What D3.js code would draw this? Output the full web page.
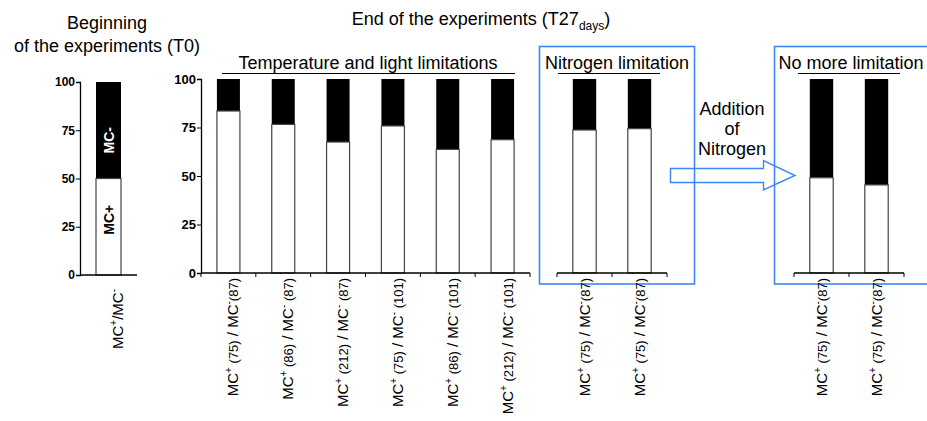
<!DOCTYPE html>
<html>
<head>
<meta charset="utf-8">
<script src="https://cdn.jsdelivr.net/npm/d3@7"></script>
<style>
  body { margin: 0; background: #fff; }
  svg { font-family: "Liberation Sans", Arial, sans-serif; }
</style>
</head>
<body>
<div id="chart"></div>
<script>
// % MC+ (white part); MC- is the rest up to 100
const startValues = [50];
const tempLightValues = [83.5, 76.6, 67.5, 75.8, 63.7, 68.7];
const nitrogenValues = [73.7, 74.4];
const noLimitValues = [49.1, 45.4];

const tempLightStrains = [['75', '87'], ['86', '87'], ['212', '87'], ['75', '101'], ['86', '101'], ['212', '101']];
const nitrogenStrains = [['75', '87'], ['75', '87']];
const noLimitStrains = [['75', '87'], ['75', '87']];

const yTicks = [0, 25, 50, 75, 100];
const blue = '#3d86f4';
const bigFont = 18;

const W = 927, H = 421;
const svg = d3.select('#chart').append('svg')
  .attr('width', W)
  .attr('height', H);

const yLeft = d3.scaleLinear().domain([0, 100]).range([275, 82]);
const yMain = d3.scaleLinear().domain([0, 100]).range([273, 79]);

function yAxis(x, y, size) {
  const g = svg.append('g')
    .attr('transform', `translate(${x},0)`)
    .call(d3.axisLeft(y).tickValues(yTicks).tickSize(4).tickPadding(1));
  g.select('.domain').attr('stroke', '#000').attr('stroke-width', 1.3);
  g.selectAll('.tick line').attr('stroke', '#000');
  g.selectAll('.tick text')
    .attr('font-size', size + 'px')
    .attr('font-weight', 'bold')
    .attr('font-family', '"Liberation Sans", Arial, sans-serif')
    .attr('fill', '#000');
}

function xBase(x, y, ticks) {
  svg.append('line')
    .attr('x1', x.range()[0]).attr('x2', x.range()[1])
    .attr('y1', y(0)).attr('y2', y(0))
    .attr('stroke', '#000').attr('stroke-width', 1.3);
  if (!ticks) return;
  const pos = x.domain().map(d => x(d)).concat([x.range()[1]]);
  svg.selectAll(null)
    .data(pos)
    .enter().append('line')
    .attr('x1', d => d).attr('x2', d => d)
    .attr('y1', y(0)).attr('y2', y(0) + 4)
    .attr('stroke', '#000');
}

function bars(values, x, y, barW) {
  const g = svg.append('g');
  values.forEach((v, i) => {
    const cx = x(i) + x.bandwidth() / 2;
    g.append('rect')
      .attr('x', cx - barW / 2).attr('width', barW)
      .attr('y', y(100)).attr('height', y(v) - y(100))
      .attr('fill', '#000');
    g.append('rect')
      .attr('x', cx - barW / 2).attr('width', barW)
      .attr('y', y(v)).attr('height', y(0) - y(v))
      .attr('fill', '#fff')
      .attr('stroke', '#444').attr('stroke-width', 1.2);
  });
}

// rotated "MC+ (a) / MC- (b)" label, strain numbers a bit smaller
function strainLabel(cx, y0, strains, gap, off) {
  const t = svg.append('text')
    .attr('transform', `translate(${cx + off},${y0}) rotate(-90)`)
    .attr('text-anchor', 'end')
    .attr('font-size', '15px')
    .attr('fill', '#000');
  t.append('tspan').text('MC');
  t.append('tspan').attr('font-size', '10px').attr('dy', -6).text('+');
  t.append('tspan').attr('dy', 6).attr('font-size', '13px').text(` (${strains[0]})`);
  t.append('tspan').text(' / MC');
  t.append('tspan').attr('font-size', '10px').attr('dy', -6).text('-');
  t.append('tspan').attr('dy', 6).attr('font-size', '13px').text(`${gap}(${strains[1]})`);
}

function text(x, y, str, size, anchor) {
  return svg.append('text')
    .attr('x', x).attr('y', y)
    .attr('text-anchor', anchor || 'middle')
    .attr('font-size', size + 'px')
    .attr('fill', '#000')
    .text(str);
}

// ---- Beginning (T0)
text(107, 29, 'Beginning', bigFont);
text(107, 52, 'of the experiments (T0)', bigFont);

const xLeft = d3.scaleBand().domain([0]).range([80, 137]);
bars(startValues, xLeft, yLeft, 25);
xBase(xLeft, yLeft, false);
yAxis(80, yLeft, 12);

const lc = xLeft(0) + xLeft.bandwidth() / 2;
svg.append('text')
  .attr('transform', `translate(${lc + 5},${(yLeft(100) + yLeft(startValues[0])) / 2 + 10}) rotate(-90)`)
  .attr('text-anchor', 'middle')
  .attr('font-size', '14px').attr('font-weight', 'bold')
  .attr('fill', '#fff').text('MC-');
svg.append('text')
  .attr('transform', `translate(${lc + 5},${(yLeft(startValues[0]) + yLeft(0)) / 2 - 7}) rotate(-90)`)
  .attr('text-anchor', 'middle')
  .attr('font-size', '14px').attr('font-weight', 'bold')
  .attr('fill', '#000').text('MC+');

const lt = svg.append('text')
  .attr('transform', `translate(${lc + 14},289) rotate(-90)`)
  .attr('text-anchor', 'end')
  .attr('font-size', '15px').attr('fill', '#000');
lt.append('tspan').text('MC');
lt.append('tspan').attr('font-size', '10px').attr('dy', -6).text('+');
lt.append('tspan').attr('dy', 6).text('/MC');
lt.append('tspan').attr('font-size', '10px').attr('dy', -6).text('-');

// ---- End of experiments
const title = svg.append('text')
  .attr('x', 481).attr('y', 25)
  .attr('text-anchor', 'middle')
  .attr('font-size', bigFont + 'px').attr('fill', '#000');
title.append('tspan').text('End of the experiments (T27');
title.append('tspan').attr('font-size', '12px').attr('dy', 5).text('days');
title.append('tspan').attr('dy', -5).text(')');

// temperature and light
const xMain = d3.scaleBand().domain(d3.range(tempLightValues.length)).range([201, 530]);
bars(tempLightValues, xMain, yMain, 23);
xBase(xMain, yMain, true);
yAxis(201, yMain, 13);
text(368, 69, 'Temperature and light limitations', bigFont);
svg.append('line').attr('x1', 222).attr('x2', 515).attr('y1', 73.5).attr('y2', 73.5)
  .attr('stroke', '#000').attr('stroke-width', 1.2);
tempLightStrains.forEach((s, i) =>
  strainLabel(xMain(i) + xMain.bandwidth() / 2, 278, s, i === 0 ? '' : ' ', 10));

// nitrogen limitation
const xN = d3.scaleBand().domain(d3.range(nitrogenValues.length)).range([557, 667]);
bars(nitrogenValues, xN, yMain, 23.4);
xBase(xN, yMain, true);
svg.append('rect').attr('x', 539.5).attr('y', 46.5).attr('width', 155).attr('height', 237.5)
  .attr('fill', 'none').attr('stroke', blue).attr('stroke-width', 1.6);
text(617, 69, 'Nitrogen limitation', bigFont);
svg.append('line').attr('x1', 558).attr('x2', 660).attr('y1', 73.5).attr('y2', 73.5)
  .attr('stroke', '#000').attr('stroke-width', 1.2);
nitrogenStrains.forEach((s, i) =>
  strainLabel(xN(i) + xN.bandwidth() / 2, 278, s, '', 5));

// arrow
text(732, 115, 'Addition', bigFont);
text(732, 135, 'of', bigFont);
text(732, 155, 'Nitrogen', bigFont);
svg.append('path')
  .attr('d', 'M670.5,168.5 L763.5,168.5 L763.5,160.5 L795,175.5 L763.5,190 L763.5,182.5 L670.5,182.5 Z')
  .attr('fill', 'none').attr('stroke', blue).attr('stroke-width', 1.4);

// no more limitation
const xF = d3.scaleBand().domain(d3.range(noLimitValues.length)).range([794, 904]);
bars(noLimitValues, xF, yMain, 23.4);
xBase(xF, yMain, true);
svg.append('rect').attr('x', 774.5).attr('y', 46.5).attr('width', 160).attr('height', 237.5)
  .attr('fill', 'none').attr('stroke', blue).attr('stroke-width', 1.6);
text(851, 69, 'No more limitation', bigFont);
svg.append('line').attr('x1', 798).attr('x2', 900).attr('y1', 73.5).attr('y2', 73.5)
  .attr('stroke', '#000').attr('stroke-width', 1.2);
noLimitStrains.forEach((s, i) =>
  strainLabel(xF(i) + xF.bandwidth() / 2, 278, s, '', 5));
</script>
</body>
</html>
